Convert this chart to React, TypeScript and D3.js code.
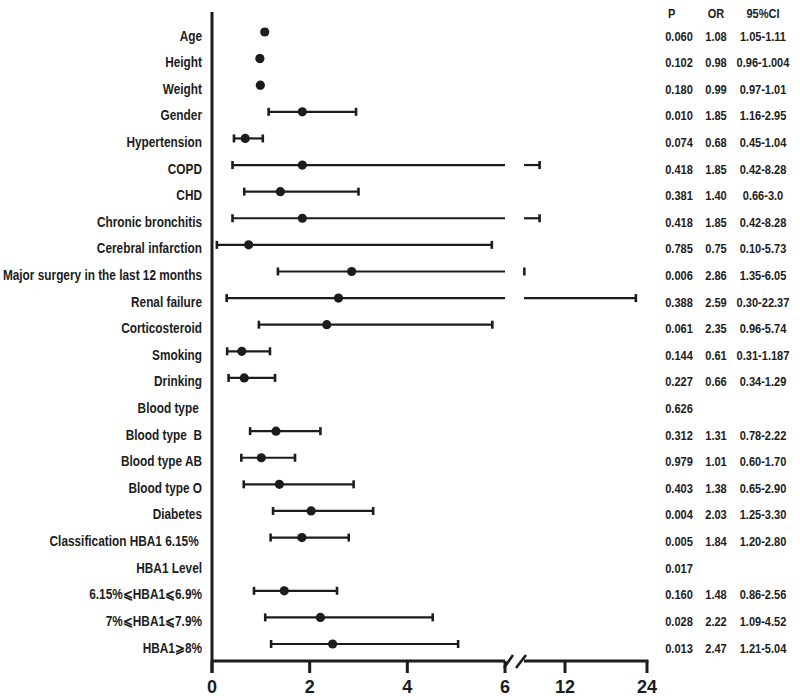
import React from "react";
import * as d3 from "d3";

const labels = [
  "Age", "Height", "Weight", "Gender", "Hypertension", "COPD", "CHD",
  "Chronic bronchitis", "Cerebral infarction", "Major surgery in the last 12 months",
  "Renal failure", "Corticosteroid", "Smoking", "Drinking", "Blood type ",
  "Blood type  B", "Blood type AB", "Blood type O", "Diabetes",
  "Classification HBA1 6.15% ", "HBA1 Level", "6.15%⩽HBA1⩽6.9%",
  "7%⩽HBA1⩽7.9%", "HBA1⩾8%",
];
const pValues = [
  "0.060", "0.102", "0.180", "0.010", "0.074", "0.418", "0.381", "0.418",
  "0.785", "0.006", "0.388", "0.061", "0.144", "0.227", "0.626", "0.312",
  "0.979", "0.403", "0.004", "0.005", "0.017", "0.160", "0.028", "0.013",
];
const orValues = [
  "1.08", "0.98", "0.99", "1.85", "0.68", "1.85", "1.40", "1.85",
  "0.75", "2.86", "2.59", "2.35", "0.61", "0.66", "", "1.31",
  "1.01", "1.38", "2.03", "1.84", "", "1.48", "2.22", "2.47",
];
const ciLow = [
  "1.05", "0.96", "0.97", "1.16", "0.45", "0.42", "0.66", "0.42",
  "0.10", "1.35", "0.30", "0.96", "0.31", "0.34", "", "0.78",
  "0.60", "0.65", "1.25", "1.20", "", "0.86", "1.09", "1.21",
];
const ciHigh = [
  "1.11", "1.004", "1.01", "2.95", "1.04", "8.28", "3.0", "8.28",
  "5.73", "6.05", "22.37", "5.74", "1.187", "1.29", "", "2.22",
  "1.70", "2.90", "3.30", "2.80", "", "2.56", "4.52", "5.04",
];
const ticksLow = [0, 2, 4, 6];
const ticksHigh = [12, 24];
const headers = ["P", "OR", "95%CI"];

const INK = "#1c1c1c";
const FONT = "'Liberation Sans', Arial, sans-serif";

export default function App() {
  const x1 = d3.scaleLinear().domain([0, 6]).range([212, 505]);
  const x2 = d3.scaleLinear().domain([6, 24]).range([524, 647]);
  const xv = (v: number) => (v <= 6 ? x1(v) : x2(v));
  const y = d3
    .scalePoint<number>()
    .domain(d3.range(labels.length))
    .range([32, 644]);
  const axisY = 661;
  const colP = 679;
  const colOR = 716;
  const colCI = 763;

  return (
    <svg
      width={800}
      height={696}
      style={{ position: "absolute", left: 0, top: 0, background: "#fff" }}
      fontFamily={FONT}
      fontWeight="bold"
    >
      {/* left labels */}
      {labels.map((l, i) => (
        <text
          key={"l" + i}
          transform={`translate(202,${(y(i) as number) + 8.5}) scale(0.845,1)`}
          textAnchor="end"
          fontSize={14}
          fill={INK}
          style={{ whiteSpace: "pre" }}
        >
          {l}
        </text>
      ))}

      {/* error bars and points */}
      {labels.map((_, i) => {
        if (!orValues[i]) return null;
        const cy = y(i) as number;
        const lo = parseFloat(ciLow[i]);
        const hi = parseFloat(ciHigh[i]);
        const or = parseFloat(orValues[i]);
        const segs: [number, number][] = [];
        if (hi <= 6) segs.push([x1(lo), x1(hi)]);
        else {
          segs.push([x1(lo), x1(6)]);
          segs.push([x2(6), x2(hi)]);
        }
        return (
          <g key={"b" + i} stroke={INK}>
            {segs.map((s, k) => (
              <line key={k} x1={s[0]} x2={s[1]} y1={cy} y2={cy} strokeWidth={2.2} />
            ))}
            <line x1={xv(lo)} x2={xv(lo)} y1={cy - 4} y2={cy + 4} strokeWidth={2.6} />
            <line x1={xv(hi)} x2={xv(hi)} y1={cy - 4} y2={cy + 4} strokeWidth={2.6} />
            <circle cx={x1(or)} cy={cy} r={4.6} fill={INK} stroke="none" />
          </g>
        );
      })}

      {/* axes */}
      <g stroke={INK} strokeWidth={3}>
        <line x1={212} x2={212} y1={12} y2={673} />
        <line x1={212} x2={x1(6)} y1={axisY} y2={axisY} />
        <line x1={x2(6)} x2={x2(24) + 1.5} y1={axisY} y2={axisY} />
        {ticksLow.map((t) => (
          <line key={"tl" + t} x1={x1(t)} x2={x1(t)} y1={axisY} y2={673} />
        ))}
        {ticksHigh.map((t) => (
          <line key={"th" + t} x1={x2(t)} x2={x2(t)} y1={axisY} y2={673} />
        ))}
        <line x1={x1(6) - 1} x2={x1(6) + 8} y1={668} y2={655} strokeWidth={2.6} />
        <line x1={x1(6) + 11} x2={x1(6) + 21} y1={668} y2={655} strokeWidth={2.6} />
      </g>
      {ticksLow.map((t) => (
        <text key={"tt" + t} x={x1(t)} y={693} textAnchor="middle" fontSize={18} fill={INK}>
          {t}
        </text>
      ))}
      {ticksHigh.map((t) => (
        <text key={"tth" + t} x={x2(t)} y={693} textAnchor="middle" fontSize={18} fill={INK}>
          {t}
        </text>
      ))}

      {/* table */}
      {headers.map((h, k) => (
        <text
          key={"h" + k}
          transform={`translate(${[colP - 11, colOR, colCI][k]},18) scale(0.85,1)`}
          textAnchor={k === 0 ? "start" : "middle"}
          fontSize={13}
          fill={INK}
        >
          {h}
        </text>
      ))}
      {labels.map((_, i) => {
        const ty = (y(i) as number) + 8.5;
        return (
          <g key={"t" + i} fontSize={13} fill={INK}>
            <text transform={`translate(${colP},${ty}) scale(0.85,1)`} textAnchor="middle">
              {pValues[i]}
            </text>
            {orValues[i] && (
              <text transform={`translate(${colOR},${ty}) scale(0.85,1)`} textAnchor="middle">
                {orValues[i]}
              </text>
            )}
            {ciLow[i] && (
              <text transform={`translate(${colCI},${ty}) scale(0.85,1)`} textAnchor="middle">
                {ciLow[i] + "-" + ciHigh[i]}
              </text>
            )}
          </g>
        );
      })}
    </svg>
  );
}
